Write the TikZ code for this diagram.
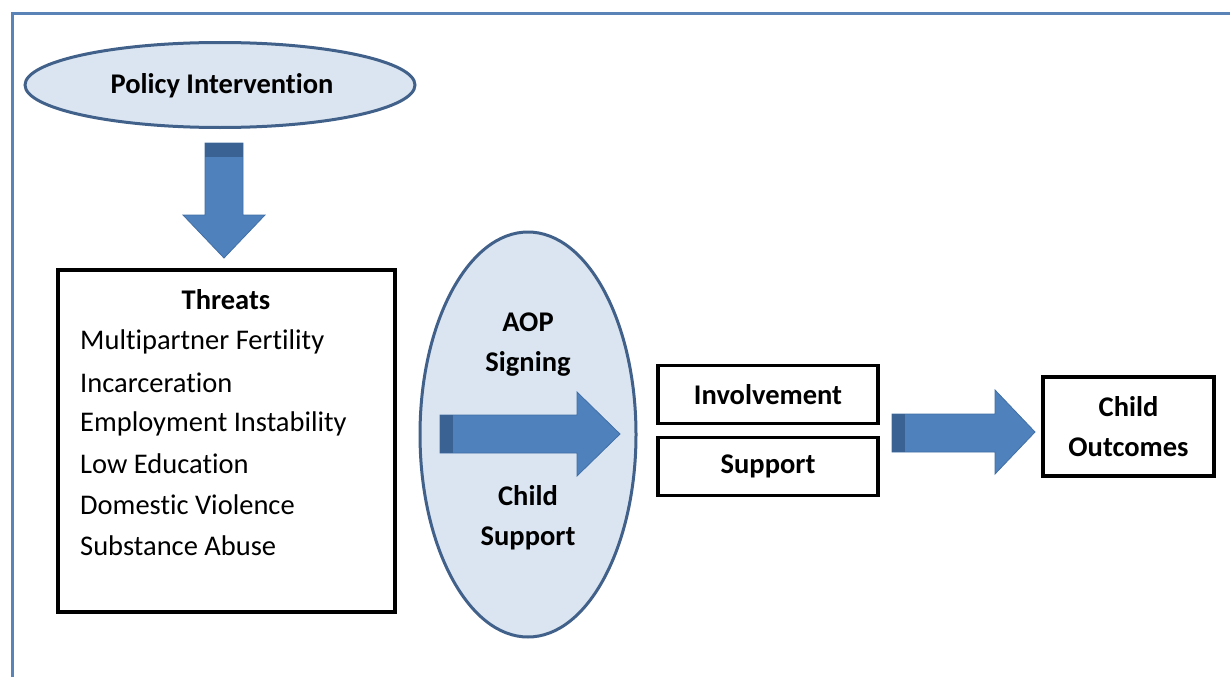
\documentclass[tikz,border=0pt]{standalone}
\usepackage{fontspec}
\setmainfont{Carlito}[Ligatures=NoCommon]
\usetikzlibrary{shapes.geometric}
\definecolor{frameblue}{HTML}{5A84B8}
\definecolor{ellfill}{HTML}{DBE5F1}
\definecolor{elldraw}{HTML}{41618A}
\definecolor{arrfill}{HTML}{4F81BD}
\definecolor{arrdark}{HTML}{3A6394}
\definecolor{arrline}{HTML}{416FA6}
\tikzset{
  ell/.style={ellipse, draw=elldraw, fill=ellfill, line width=3pt, inner sep=0pt},
  blk/.style={draw=black, line width=3.2pt, fill=white, inner sep=0pt, align=center, font=\fontsize{28.5}{40}\selectfont\bfseries},
  lbl/.style={font=\fontsize{28.5}{40}\selectfont\bfseries, align=center, inner sep=0pt},
  item/.style={font=\fontsize{28.5}{30}\selectfont, anchor=west, inner sep=0pt},
  arrbody/.style={fill=arrfill, draw=arrline, line width=0.8pt, line join=miter},
  arrband/.style={fill=arrdark}
}
\begin{document}
\begin{tikzpicture}[x=1pt,y=-1pt]
\useasboundingbox (0,0) rectangle (1230,677);
\fill[white] (0,0) rectangle (1230,677);
% frame
\coordinate (fbl) at (12,677);
\coordinate (ftl) at (12,14);
\coordinate (ftr) at (1230,14);
\draw[frameblue, line width=3pt] (fbl) -- (ftl) -- (ftr);

% Policy Intervention
\node[ell, minimum width=390pt, minimum height=85pt] (pi) at (220,85) {};
\node[lbl] (pit) at (222,86) {Policy Intervention};

% down arrow
\draw[arrbody] (205,143) -- (243,143) -- (243,215) -- (265,215) -- (224,258) -- (183,215) -- (205,215) -- cycle;
\fill[arrband] (205.4,143.4) rectangle (242.6,157);

% Threats box
\node[draw=black, line width=3.2pt, fill=white, minimum width=337pt, minimum height=342pt, inner sep=0pt] (thr) at (226.5,441) {};
\node[lbl] (thrt) at (226,300) {Threats};
\node[item] (t1) at (80,342) {Multipartner Fertility};
\node[item] (t2) at (80,383) {Incarceration};
\node[item] (t3) at (80,424) {Employment Instability};
\node[item] (t4) at (80,464) {Low Education};
\node[item] (t5) at (80,505) {Domestic Violence};
\node[item] (t6) at (80,546) {Substance Abuse};

% AOP ellipse
\node[ell, minimum width=216pt, minimum height=405pt] (aop) at (528,434.5) {};
\node[lbl] (aopt) at (528,345) {AOP\\Signing};
\node[lbl] (cst) at (528,518) {Child\\Support};

% right arrow 1
\draw[arrbody] (440,415) -- (577,415) -- (577,392) -- (620,434) -- (577,476) -- (577,453) -- (440,453) -- cycle;
\fill[arrband] (440.4,415.4) rectangle (453,452.6);

% Involvement / Support
\node[blk, minimum width=220pt, minimum height=58pt] (inv) at (768,394.5) {Involvement};
\node[blk, minimum width=220pt, minimum height=58pt] (sup) at (768,466.5) {Support};

% right arrow 2
\draw[arrbody] (892,414) -- (995,414) -- (995,390) -- (1035,432) -- (995,474) -- (995,452) -- (892,452) -- cycle;
\fill[arrband] (892.4,414.4) rectangle (905,451.6);

% Child Outcomes
\node[blk, minimum width=171pt, minimum height=99pt] (co) at (1128.5,426.5) {Child\\Outcomes};
\end{tikzpicture}
\end{document}
